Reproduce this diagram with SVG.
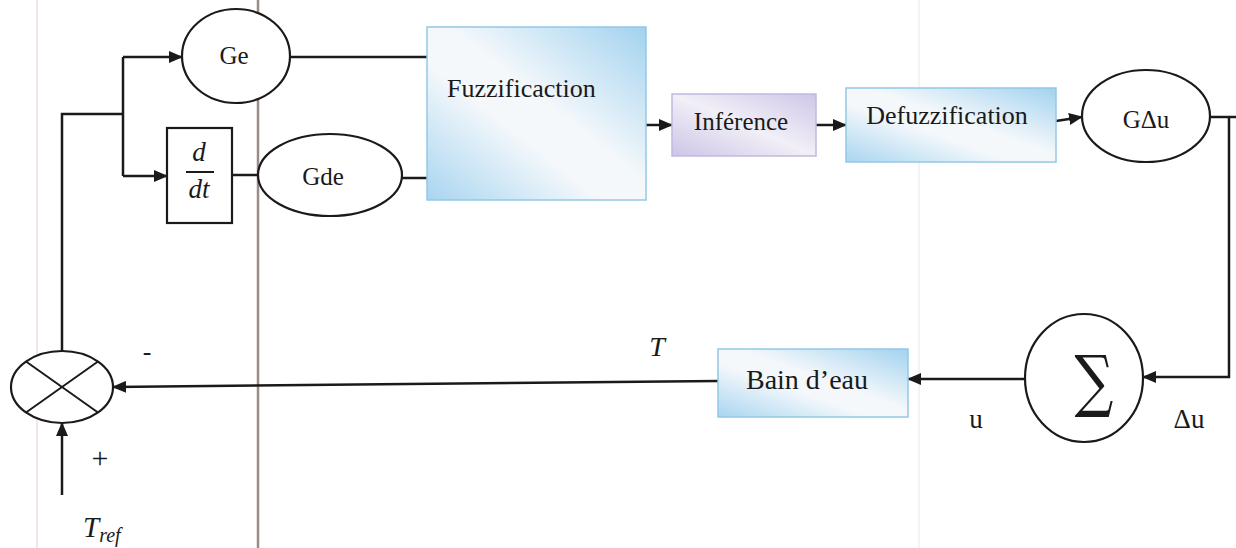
<svg xmlns="http://www.w3.org/2000/svg" width="1236" height="548" viewBox="0 0 1236 548">
<style>
.ln{stroke:#1a1a1a;stroke-width:2.5;fill:none}
.sh{stroke:#1a1a1a;stroke-width:2.2;fill:#fff}
.t{font-family:"Liberation Serif","Times New Roman",serif;fill:#1a1a1a}
.bl{stroke:#93c8e8;stroke-width:1.5}
</style>
<defs>
<marker id="ah" viewBox="0 0 14 12" refX="13" refY="6" markerWidth="14" markerHeight="12" orient="auto" markerUnits="userSpaceOnUse"><path d="M0,0 L14,6 L0,12 z" fill="#1a1a1a"/></marker>
<linearGradient id="gb" x1="1" y1="0" x2="0" y2="1"><stop offset="0" stop-color="#a2d2ef"/><stop offset="0.45" stop-color="#f4f8fb"/><stop offset="0.6" stop-color="#f4f8fb"/><stop offset="1" stop-color="#a8d5f0"/></linearGradient>
<linearGradient id="gp" x1="1" y1="0" x2="0" y2="1"><stop offset="0" stop-color="#cfc6e8"/><stop offset="0.5" stop-color="#f1eff7"/><stop offset="1" stop-color="#cdc4e6"/></linearGradient>
</defs>
<rect width="1236" height="548" fill="#fff"/>
<g id="background">
<line x1="37" y1="0" x2="37" y2="548" stroke="#f2dede" stroke-width="1.5"/>
<line x1="258" y1="0" x2="258" y2="548" stroke="#9c8c88" stroke-width="2.5"/>
<line x1="919" y1="0" x2="919" y2="548" stroke="#ececec" stroke-width="1.2"/>
</g>
<g id="connectors">
<polyline class="ln" points="62,351 62,114 123,114"/>
<polyline class="ln" points="123,57 123,176"/>
<line class="ln" x1="123" y1="57" x2="182" y2="57" marker-end="url(#ah)"/>
<line class="ln" x1="123" y1="176" x2="167" y2="176" marker-end="url(#ah)"/>
<line class="ln" x1="232" y1="175" x2="258" y2="175"/>
<line class="ln" x1="291" y1="57" x2="428" y2="57"/>
<line class="ln" x1="402" y1="178" x2="428" y2="178"/>
<line class="ln" x1="646" y1="125" x2="672" y2="125" marker-end="url(#ah)"/>
<line class="ln" x1="816" y1="125" x2="846" y2="125" marker-end="url(#ah)"/>
<line class="ln" x1="1056" y1="121" x2="1082" y2="117" marker-end="url(#ah)"/>
<polyline class="ln" points="1210,117 1236,117"/>
<polyline class="ln" points="1229,117 1229,377 1143,377" marker-end="url(#ah)"/>
<line class="ln" x1="1025" y1="379" x2="908" y2="379" marker-end="url(#ah)"/>
<line class="ln" x1="718" y1="381" x2="113" y2="387" marker-end="url(#ah)"/>
<line class="ln" x1="62" y1="495" x2="62" y2="423" marker-end="url(#ah)"/>
</g>
<g id="Ge">
<ellipse class="sh" cx="236" cy="56" rx="54" ry="47"/>
<text class="t" x="234" y="64" font-size="25" text-anchor="middle">Ge</text>
</g>
<g id="ddt">
<rect class="sh" x="167" y="128" width="65" height="95"/>
<text class="t" x="199" y="161" font-size="27" font-style="italic" text-anchor="middle">d</text>
<line x1="186" y1="172" x2="214" y2="172" stroke="#1a1a1a" stroke-width="2"/>
<text class="t" x="199" y="198" font-size="27" font-style="italic" text-anchor="middle">dt</text>
</g>
<g id="Gde">
<ellipse class="sh" cx="330" cy="175" rx="72" ry="41"/>
<text class="t" x="323" y="185" font-size="25" text-anchor="middle">Gde</text>
</g>
<g id="Fuzzification">
<rect class="bl" x="427" y="27" width="219" height="173" fill="url(#gb)"/>
<text class="t" x="447" y="97" font-size="26">Fuzzificaction</text>
</g>
<g id="Inference">
<rect x="672" y="94" width="144" height="62" fill="url(#gp)" stroke="#c3b8e0" stroke-width="1.5"/>
<text class="t" x="741" y="130" font-size="25" text-anchor="middle">Inférence</text>
</g>
<g id="Defuzzification">
<rect class="bl" x="846" y="88" width="210" height="74" fill="url(#gb)"/>
<text class="t" x="947" y="124" font-size="26" text-anchor="middle">Defuzzification</text>
</g>
<g id="GDu">
<ellipse class="sh" cx="1146" cy="116" rx="64" ry="46"/>
<text class="t" x="1146" y="128" font-size="25" text-anchor="middle">GΔu</text>
</g>
<g id="Sigma">
<ellipse class="sh" cx="1084" cy="378" rx="59" ry="64"/>
<text transform="translate(1094,404) scale(0.8,1)" font-family="DejaVu Serif,serif" font-size="68" fill="#1a1a1a" text-anchor="middle">∑</text>
</g>
<g id="Bain">
<rect class="bl" x="718" y="349" width="190" height="68" fill="url(#gb)"/>
<text class="t" x="807" y="389" font-size="28" text-anchor="middle">Bain d’eau</text>
</g>
<g id="Summer">
<ellipse class="sh" cx="62" cy="387" rx="51" ry="36"/>
<line x1="26" y1="361.5" x2="98" y2="412.5" stroke="#1a1a1a" stroke-width="2"/>
<line x1="26" y1="412.5" x2="98" y2="361.5" stroke="#1a1a1a" stroke-width="2"/>
</g>
<g id="labels">
<text class="t" x="147" y="360" font-size="26" text-anchor="middle">-</text>
<text class="t" x="100" y="468" font-size="30" text-anchor="middle">+</text>
<text class="t" x="83" y="537" font-size="29" font-style="italic">T<tspan font-size="20" dy="5">ref</tspan></text>
<text class="t" x="657" y="356" font-size="28" font-style="italic" text-anchor="middle">T</text>
<text class="t" x="976" y="428" font-size="27" text-anchor="middle">u</text>
<text class="t" x="1189" y="428" font-size="27" text-anchor="middle">Δu</text>
</g>
</svg>
